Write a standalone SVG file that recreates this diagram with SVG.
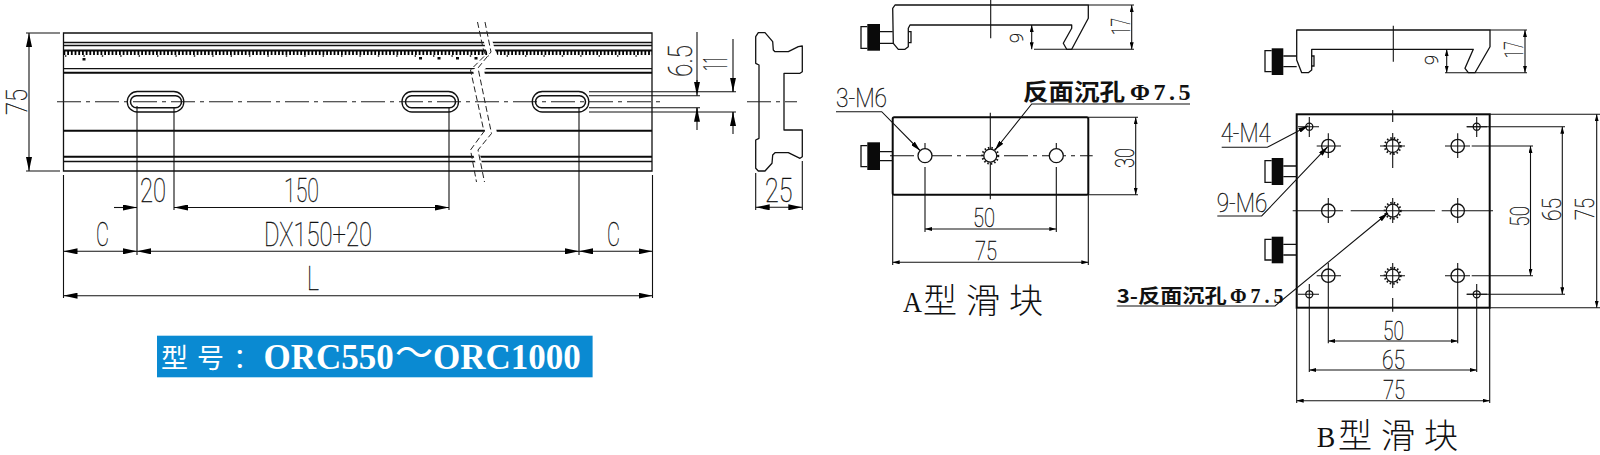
<svg xmlns="http://www.w3.org/2000/svg" width="1600" height="455" viewBox="0 0 1600 455">
<style>
.o{fill:none;stroke:#111;stroke-width:1.3}
.m{fill:none;stroke:#0a0a0a;stroke-width:2}
.i{fill:none;stroke:#111;stroke-width:1.500}
.t{fill:none;stroke:#111;stroke-width:1.100}
.c{fill:none;stroke:#222;stroke-width:1.100;stroke-dasharray:24 5 4 5}
.k{fill:#0a0a0a}
.d{fill:none;stroke:#111;stroke-width:1.100}
.a{marker-start:url(#big);marker-end:url(#big)}
.s{marker-start:url(#sm);marker-end:url(#sm)}
.n{font-family:Roboto,"Liberation Sans",sans-serif;font-weight:100;font-size:33px;fill:#111;stroke:#111;stroke-width:.35}
.n2{font-size:25.500px}
.b{font-family:"Noto Sans CJK SC","Liberation Sans",sans-serif;font-weight:700;fill:#111}
.f{font-family:"Liberation Serif",serif;font-weight:700;fill:#111}
.h{font-family:"Noto Sans CJK SC",sans-serif;font-weight:300;fill:#111;font-size:34px;letter-spacing:9px}
.l{font-family:"Liberation Serif",serif;fill:#111;font-size:30px}
.w{fill:#fff;font-family:"Liberation Serif","Noto Sans CJK SC",serif}
</style>
<defs>
<marker id="big" viewBox="0 0 14 6" refX="14" refY="3" markerWidth="14" markerHeight="6" markerUnits="userSpaceOnUse" orient="auto-start-reverse"><path d="M0 0L14 3L0 6z" fill="#000"/></marker>
<marker id="sm" viewBox="0 0 7 4" refX="7" refY="2" markerWidth="7" markerHeight="4" markerUnits="userSpaceOnUse" orient="auto-start-reverse"><path d="M0 0L7 2L0 4z" fill="#000"/></marker>
<marker id="ld" viewBox="0 0 10 5" refX="10" refY="2.5" markerWidth="10" markerHeight="5" markerUnits="userSpaceOnUse" orient="auto"><path d="M0 0L10 2.5L0 5z" fill="#000"/></marker>
</defs>
<rect width="1600" height="455" fill="#fff"/>

<g id="rail">
<path class="o" d="M63.5 33H652V171H63.5z"/>
<path class="o" d="M63.5 42.5H652M63.5 45.5H652M63.5 68.7H652"/>
<path class="m" d="M63.5 50.500H652M63.5 72.7H652M63.5 130.7H652M63.5 156.7H652"/>
<path class="o" d="M63.5 161.5H652"/>
<path fill="none" stroke="#000" stroke-width="4" stroke-dasharray="1.800 1.900" d="M63.5 53H652"/>
<path fill="none" stroke="#111" stroke-width="1.400" stroke-dasharray="1.400 17" d="M65 56H652"/>
<path class="k" d="M82.5 58h3v2.5h-3zM419 57h3v2.5h-3zM437.5 57h3v2.5h-3zM456 57h3v2.5h-3zM474.5 57h3v2.5h-3z"/>
<path fill="#fff" d="M482.5 36L486 50L489 56L473 70L485 131L472 150L477 168H483L479 150L497 133L484 70L498 56L495 50L491 36z"/>
<path fill="none" stroke="#222" stroke-width="1" stroke-dasharray="6 3" d="M477.5 22L483 48L485.500 55L470.500 70L484 131.500L470.500 150L476.500 182M485 22L491 52L478 68L491.500 133.500L478 150L484.500 182"/>
<path class="c" d="M57 101.700H660"/>
<rect class="o" x="127.300" y="91.500" width="56.500" height="20.500" rx="10"/>
<rect class="i" x="130.500" y="95.700" width="51" height="12" rx="6"/>
<rect class="o" x="402" y="91.500" width="56.500" height="20.500" rx="10"/>
<rect class="i" x="405.500" y="95.700" width="50" height="12" rx="6"/>
<rect class="o" x="532.300" y="91.500" width="56.500" height="20.500" rx="10"/>
<rect class="i" x="535.500" y="95.700" width="50" height="12" rx="6"/>
</g>

<g id="rail-profile">
<path class="o" stroke-linejoin="round" d="M755.700 36.700L758.300 32.700H765L772.700 41.700L773.300 50L775 51.700H788.300L798.300 46.700L802.300 46V71.700L800 73.300H784V130H802.300V156.700L800 158.300L788.300 152.700H775L772.700 155L772 163.300L765 171H758.300L755.700 168.300V140L759 138.300V65L755.700 63.300z"/>
<path class="c" d="M747 101.700H797"/>
</g>

<g id="banner">
<rect x="157" y="335.700" width="435.600" height="41.600" fill="#0a8ad2"/>
<text class="w" x="161" y="368" font-size="27" letter-spacing="9" font-family="Noto Sans CJK SC,sans-serif">型号：</text>
<text class="w" x="263.500" y="369.300" font-size="35" font-weight="700">ORC550</text>
<text class="w" x="395" y="366" font-size="38" font-weight="400">～</text>
<text class="w" x="433" y="369.300" font-size="35" font-weight="700">ORC1000</text>
</g>

<g id="slider-a-side">
<path class="o" stroke-width="1.600" stroke-linejoin="round" d="M892.700 8.300L895 5H1088.300V18.300L1071.700 49.300H1066.700L1063.300 43.300L1071.700 28.300V25H910L908.300 28.300V46.700L905 49.300H898.300L893.300 43.300z"/>
<rect class="k" x="867.300" y="24" width="12.700" height="26.700"/>
<path class="o" d="M867.300 26.700H861V48.300H867.300M880 31.700H892.700M880 43.300H893M908.300 31.700H911V42.700H908.300"/>
<path class="t" d="M990.700 0V38.300"/>
</g>

<g id="slider-a-top">
<rect class="m" x="892.700" y="117.300" width="195.600" height="77.400" rx="1.500"/>
<rect class="k" x="867.300" y="142.300" width="12.700" height="27.700"/>
<path class="o" d="M867.300 145.700H861V166.700H867.300M880 151.700H892.700M880 160.700H892.700"/>
<path class="t" stroke-dasharray="24 5 4 5" d="M890 155.700H1092.700"/>
<path class="t" d="M925 143V148.700M1056.300 143V148.700M990.300 112.700V199.300"/>
<circle class="o" style="fill:#fff" cx="925" cy="155.700" r="7"/>
<circle class="o" style="fill:#fff" cx="990.300" cy="155.700" r="6.500"/>
<circle fill="none" stroke="#111" stroke-width="2" stroke-dasharray="1.500 2" cx="990.300" cy="155.700" r="8"/>
<circle class="o" style="fill:#fff" cx="1056.300" cy="155.700" r="7"/>
</g>

<g id="slider-b-side">
<path class="o" stroke-width="1.600" stroke-linejoin="round" d="M1296.700 30H1490V46.700L1475 72.700H1468.300L1465 68.300L1473.300 49.300H1311.700V70L1308.300 72.700H1301.700L1296.700 60z"/>
<rect class="k" x="1271.700" y="48.300" width="11.600" height="26.700"/>
<path class="o" d="M1271.700 50.700H1265V71.700H1271.700M1283.300 56H1296.700M1283.300 66.700H1296.700M1311.700 56H1314V66H1311.700"/>
<path class="t" d="M1393.300 25.700V61.700"/>
</g>

<g id="slider-b-top">
<rect class="m" x="1296.700" y="114.300" width="193" height="193.400"/>
<g class="k"><rect x="1271.700" y="158" width="11.600" height="27"/><rect x="1271.700" y="236.700" width="11.600" height="26.600"/></g>
<path class="o" d="M1271.700 160.700H1265V182.300H1271.700M1283.300 166H1296.700M1283.300 176.700H1296.700M1271.700 239.300H1265V260H1271.700M1283.300 244.300H1296.700M1283.300 255H1296.700"/>
<g class="o">
<circle cx="1328.300" cy="146" r="6.700"/><circle cx="1457.700" cy="146" r="6.700"/>
<circle cx="1328.300" cy="210.700" r="6.700"/><circle cx="1457.700" cy="210.700" r="6.700"/>
<circle cx="1328.300" cy="275.700" r="6.700"/><circle cx="1457.700" cy="275.700" r="6.700"/>
<circle cx="1392.700" cy="146" r="6.500"/><circle cx="1392.700" cy="210.700" r="6.500"/><circle cx="1392.700" cy="275.700" r="6.500"/>
<circle cx="1309.300" cy="126.700" r="3.500"/><circle cx="1476.700" cy="126.700" r="3.500"/>
<circle cx="1309.300" cy="294.300" r="3.500"/><circle cx="1476.700" cy="294.300" r="3.500"/>
</g>
<g fill="none" stroke="#111" stroke-width="2" stroke-dasharray="1.500 2">
<circle cx="1392.700" cy="146" r="8"/><circle cx="1392.700" cy="210.700" r="8"/><circle cx="1392.700" cy="275.700" r="8"/>
</g>
<path class="t" d="M1316.700 146H1341M1328.300 133.300V158M1445 146H1470M1457.700 133.300V158M1380 146H1405M1392.700 110V122M1392.700 133V168M1392.700 198V223M1392.700 263V288M1392.700 298V311.700M1292.700 210.700H1343M1350.700 210.700H1435M1441.700 210.700H1493M1328.300 198V223M1457.700 198V223M1316.700 275.700H1341M1328.300 263V288M1445 275.700H1470M1457.700 263V288M1380 275.700H1405M1298 126.700H1319M1309.300 117V137M1466.700 126.700H1487M1476.700 117V137M1298 294.300H1319M1309.300 284V304M1466.700 294.300H1487M1476.700 284V304"/>
</g>

<g id="connectors">
<path class="d" d="M26 33H60M26 171H60"/>
<path class="d a" d="M29 33V171"/>
<path class="d" d="M63.500 175V298M137 106V255M174 107V210M449 107V210M579 107V255M652.500 175V298"/>
<path class="d" marker-end="url(#big)" d="M114 207.500H137"/>
<path class="d a" d="M174 207.500H449"/>
<path class="d a" d="M63.500 251.300H137"/>
<path class="d a" d="M137 251.300H579"/>
<path class="d a" d="M579 251.300H652.500"/>
<path class="d a" d="M63.500 295.700H652.500"/>
<path class="d" d="M697 32V85M697 107.700V130M733 39V91.700M733 112V134M589 91.700H736M589 95.700H700M589 107.700H700M589 112H736"/>
<path class="d" marker-end="url(#big)" d="M697 80V95.700"/>
<path class="d" marker-end="url(#big)" d="M697 120V107.700"/>
<path class="d" marker-end="url(#big)" d="M733 79V91.700"/>
<path class="d" marker-end="url(#big)" d="M733 125V112"/>
<path class="d" d="M755.700 173V210M802.300 161V210"/>
<path class="d a" d="M755.700 207.300H802.300"/>

<path class="d" d="M1088.300 5H1134M1066 49.300H1134M1034 49.300H1066"/>
<path class="d s" d="M1031.700 25V49.300"/>
<path class="d s" d="M1131.700 5V49.300"/>
<path class="d" d="M1088.300 117.300H1138M1088.300 194.700H1138M925 167V232M1056.300 167V232M892.700 195V265M1088.300 195V265"/>
<path class="d s" d="M1135.700 117.300V194.700"/>
<path class="d s" d="M925 229H1056.300"/>
<path class="d s" d="M892.700 262.300H1088.300"/>
<path class="d" marker-end="url(#ld)" d="M836 111.700H881.700L920 150.500"/>
<path class="d" marker-end="url(#ld)" stroke-width="1.200" d="M1190 104H1031.700L995 150"/>

<path class="d" d="M1490 30H1527M1470 72.700H1527M1445 72.700H1470"/>
<path class="d s" d="M1446.700 49.300V72.700"/>
<path class="d s" d="M1525 30V72.700"/>
<path class="d" d="M1471.700 146H1533M1471.700 275.700H1533M1466.700 126.700H1565M1466.700 294.300H1565M1489.700 114.300H1600M1489.700 307.700H1600"/>
<path class="d s" d="M1530.500 146V275.700"/>
<path class="d s" d="M1562.300 126.700V294.300"/>
<path class="d s" d="M1596.700 114.300V307.700"/>
<path class="d" d="M1328.300 288V343.300M1457.700 288V343.300M1309.300 304V372M1476.700 304V372M1296.700 308V403M1489.700 308V403"/>
<path class="d s" d="M1328.300 341H1457.700"/>
<path class="d s" d="M1309.300 370H1476.700"/>
<path class="d s" d="M1296.700 400.700H1489.700"/>
<path class="d" marker-end="url(#ld)" d="M1221.700 147.300H1267.300L1308.300 125.700"/>
<path class="d" marker-end="url(#ld)" d="M1217.300 216H1261.700L1327.700 146.700"/>
<path class="d" marker-end="url(#ld)" d="M1116.700 306H1275L1388 213"/>
</g>

<g id="labels">
<text class="n" style="font-size:29px" transform="translate(27,102) rotate(-90)" text-anchor="middle" textLength="26" lengthAdjust="spacingAndGlyphs">75</text>
<text class="n" x="140" y="201.700" textLength="26" lengthAdjust="spacingAndGlyphs">20</text>
<text class="n" x="284" y="201.700" textLength="35" lengthAdjust="spacingAndGlyphs">150</text>
<text class="n" x="96" y="246" textLength="13" lengthAdjust="spacingAndGlyphs">C</text>
<text class="n" x="264" y="246" textLength="108" lengthAdjust="spacingAndGlyphs">DX150+20</text>
<text class="n" x="607" y="246" textLength="13" lengthAdjust="spacingAndGlyphs">C</text>
<text class="n" x="307" y="290" textLength="12" lengthAdjust="spacingAndGlyphs">L</text>
<text class="n" transform="translate(692,77) rotate(-90)" textLength="32" lengthAdjust="spacingAndGlyphs">6.5</text>
<text class="n" transform="translate(727,71) rotate(-90)" textLength="15" lengthAdjust="spacingAndGlyphs">11</text>
<text class="n" x="765" y="201.700" textLength="27.500" lengthAdjust="spacingAndGlyphs">25</text>

<text class="n" style="font-size:19px" transform="translate(1023,43) rotate(-90)" textLength="10" lengthAdjust="spacingAndGlyphs">9</text>
<text class="n n2" transform="translate(1130,35) rotate(-90)" textLength="17" lengthAdjust="spacingAndGlyphs">17</text>
<text class="n n2" transform="translate(1134,168) rotate(-90)" textLength="20" lengthAdjust="spacingAndGlyphs">30</text>
<text class="n n2" x="973" y="227" textLength="22" lengthAdjust="spacingAndGlyphs">50</text>
<text class="n n2" x="975" y="260" textLength="22" lengthAdjust="spacingAndGlyphs">75</text>
<text class="n n2" x="836" y="106.700" textLength="51" lengthAdjust="spacingAndGlyphs">3-M6</text>
<text class="b" x="1023" y="100" font-size="23" textLength="102" lengthAdjust="spacingAndGlyphs">反面沉孔</text>
<text class="f" x="1130" y="100" font-size="24" letter-spacing="3.500">Φ7.5</text>
<text class="l" x="903" y="312" textLength="19" lengthAdjust="spacingAndGlyphs">A</text>
<text class="h" x="923" y="313">型滑块</text>

<text class="n" style="font-size:19px" transform="translate(1438,65) rotate(-90)" textLength="10" lengthAdjust="spacingAndGlyphs">9</text>
<text class="n n2" transform="translate(1523,58.300) rotate(-90)" textLength="17" lengthAdjust="spacingAndGlyphs">17</text>
<text class="n n2" x="1220.700" y="141.700" textLength="50" lengthAdjust="spacingAndGlyphs">4-M4</text>
<text class="n n2" x="1216.700" y="211.700" textLength="50.500" lengthAdjust="spacingAndGlyphs">9-M6</text>
<text class="n n2" transform="translate(1529,226.700) rotate(-90)" textLength="20.700" lengthAdjust="spacingAndGlyphs">50</text>
<text class="n n2" transform="translate(1561,221) rotate(-90)" textLength="23" lengthAdjust="spacingAndGlyphs">65</text>
<text class="n n2" transform="translate(1594,220) rotate(-90)" textLength="22" lengthAdjust="spacingAndGlyphs">75</text>
<text class="b" x="1116.700" y="303" font-size="19" textLength="110" lengthAdjust="spacingAndGlyphs">3-反面沉孔</text>
<text class="f" x="1230" y="303" font-size="20" letter-spacing="4">Φ7.5</text>
<text class="n n2" x="1383" y="340" textLength="21" lengthAdjust="spacingAndGlyphs">50</text>
<text class="n n2" x="1382" y="369.300" textLength="23" lengthAdjust="spacingAndGlyphs">65</text>
<text class="n n2" x="1383" y="399.300" textLength="22" lengthAdjust="spacingAndGlyphs">75</text>
<text class="l" x="1316.700" y="447" textLength="18.500" lengthAdjust="spacingAndGlyphs">B</text>
<text class="h" x="1338" y="448">型滑块</text>
</g>
</svg>
